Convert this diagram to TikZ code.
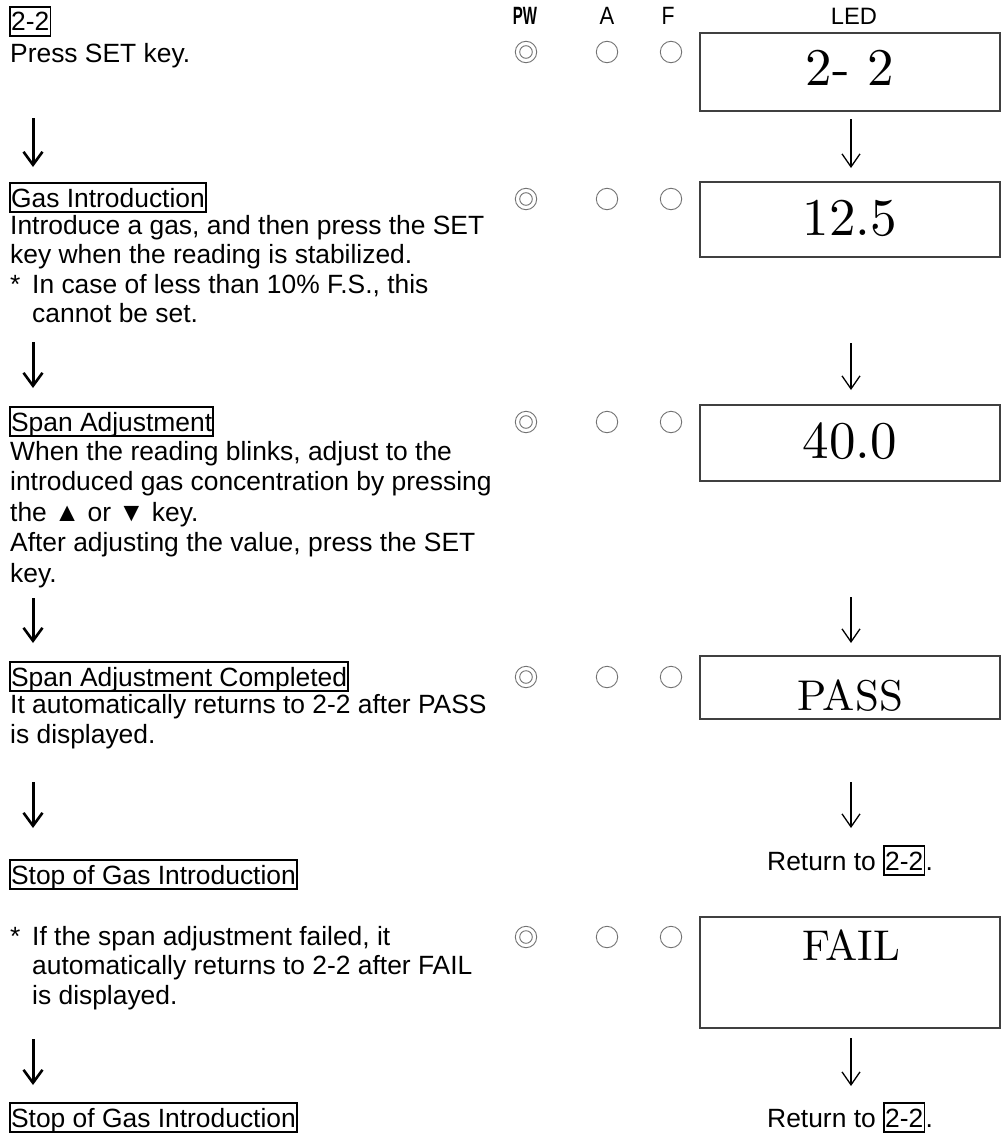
\documentclass[tikz,border=0pt]{standalone}
\usepackage{fontspec}
\usepackage{graphicx}
\newfontfamily\arialf{Liberation Sans}
\newfontfamily\lmten[Extension=.otf]{lmroman10-regular}
\usetikzlibrary{arrows.meta}
\tikzset{
  txt/.style={font=\arialf\fontsize{26.4}{29}\selectfont, anchor=base west, inner sep=0pt, text=black},
  ttl/.style={txt, draw=black, line width=1.8pt, inner xsep=1.2pt, inner ysep=0pt, text height=24pt, text depth=5.2pt},
  hdr/.style={font=\arialf\fontsize{25}{27}\selectfont, anchor=base, inner sep=0pt},
  ledbox/.style={draw=black!75, line width=1.3pt, minimum width=300pt, inner sep=0pt},
  ledtxt/.style={font=\lmten\fontsize{53}{58}\selectfont, anchor=base, inner sep=0pt},
  ledtxtb/.style={font=\lmten\fontsize{43}{48}\selectfont, anchor=base, inner sep=0pt},
  lamp/.style={circle, draw=black!55, line width=0.9pt, minimum size=21.4pt, inner sep=0pt},
  lampin/.style={circle, draw=black!55, line width=0.9pt, minimum size=12.6pt, inner sep=0pt},
  larr/.style={line width=3pt, -{Straight Barb[length=13pt,width=19pt,line width=2.6pt]}},
  rarr/.style={line width=1.3pt, -{Straight Barb[length=13pt,width=18pt,line width=1.3pt]}},
}
\begin{document}
\begin{tikzpicture}[x=1pt,y=-1pt]
\useasboundingbox[fill=white] (0,0) rectangle (1005,1140);

% headers
\node[hdr] (hpw) at (525,25) {\scalebox{0.6}[1]{\bfseries PW}};
\node[hdr] (ha) at (607,25) {\scalebox{0.88}[1]{A}};
\node[hdr] (hf) at (668,25) {\scalebox{0.85}[1]{F}};
\node[font=\arialf\fontsize{23.7}{26}\selectfont, anchor=base, inner sep=0pt] (hled) at (854,25) {LED};

% lamps
\foreach \r/\yy in {1/52,2/199,3/422,4/677,5/937}{
  \node[lamp] (pw\r) at (526,\yy) {};
  \node[lampin] (pwi\r) at (526,\yy) {};
  \node[lamp] (a\r) at (607,\yy) {};
  \node[lamp] (f\r) at (671,\yy) {};
}

% LED boxes
\node[ledbox, minimum height=78pt] (b1) at (850,72) {};
\node[ledbox, minimum height=75pt] (b2) at (850,219.5) {};
\node[ledbox, minimum height=76pt] (b3) at (850,443) {};
\node[ledbox, minimum height=63pt] (b4) at (850,687.5) {};
\node[ledbox, minimum height=111pt] (b5) at (850,972.5) {};
\node[ledtxt] (d1) at (850,85) {2- 2};
\node[ledtxt] (d2) at (850,235) {12.5};
\node[ledtxt] (d3) at (850,458) {40.0};
\node[ledtxtb] (d4) at (850,710) {PASS};
\node[ledtxtb] (d5) at (851,960) {FAIL};

% left text
\node[ttl] (t1) at (9,31) {2-2};
\node[txt] (p1) at (10,63) {Press SET key.};

\node[ttl] (t2) at (9,207) {Gas Introduction};
\node[txt] (p2a) at (10,234) {Introduce a gas, and then press the SET};
\node[txt] (p2b) at (10,263.5) {key when the reading is stabilized.};
\node[txt] (p2c) at (10,293) {*};
\node[txt] (p2d) at (32,293) {In case of less than 10\% F.S., this};
\node[txt] (p2e) at (32,322.5) {cannot be set.};

\node[ttl] (t3) at (9,431) {Span Adjustment};
\node[txt] (p3a) at (10,460) {When the reading blinks, adjust to the};
\node[txt] (p3b) at (10,490.5) {introduced gas concentration by pressing};
\node[txt] (p3c) at (10,521) {the ▲ or ▼ key.};
\node[txt] (p3d) at (10,551.5) {After adjusting the value, press the SET};
\node[txt] (p3e) at (10,582) {key.};

\node[ttl] (t4) at (9,686) {Span Adjustment Completed};
\node[txt] (p4a) at (10,713) {It automatically returns to 2-2 after PASS};
\node[txt] (p4b) at (10,743) {is displayed.};

\node[ttl] (t5) at (9,884) {Stop of Gas Introduction};

\node[txt] (p6s) at (10,945) {*};
\node[txt] (p6a) at (32,945) {If the span adjustment failed, it};
\node[txt] (p6b) at (32,974.5) {automatically returns to 2-2 after FAIL};
\node[txt] (p6c) at (32,1004) {is displayed.};

\node[ttl] (t7) at (9,1127) {Stop of Gas Introduction};

% return labels
\node[txt] (r1a) at (767,870) {Return to};
\node[ttl] (r1b) at (883,870) {2-2};
\node[txt] (r1c) at (r1b.base east) {.};
\node[txt] (r2a) at (767,1127) {Return to};
\node[ttl] (r2b) at (883,1127) {2-2};
\node[txt] (r2c) at (r2b.base east) {.};

% left arrows
\coordinate (l1s) at (33,118); \coordinate (l1e) at (33,167);
\coordinate (l2s) at (33,342); \coordinate (l2e) at (33,388);
\coordinate (l3s) at (33,598); \coordinate (l3e) at (33,643);
\coordinate (l4s) at (33,782); \coordinate (l4e) at (33,828);
\coordinate (l5s) at (33,1039); \coordinate (l5e) at (33,1085);
\foreach \i in {1,...,5}{ \draw[larr] (l\i s) -- (l\i e); }

% right arrows
\coordinate (q1s) at (851,119); \coordinate (q1e) at (851,168);
\coordinate (q2s) at (851,343); \coordinate (q2e) at (851,390);
\coordinate (q3s) at (851,597); \coordinate (q3e) at (851,643);
\coordinate (q4s) at (851,782); \coordinate (q4e) at (851,828);
\coordinate (q5s) at (851,1038); \coordinate (q5e) at (851,1086);
\foreach \i in {1,...,5}{ \draw[rarr] (q\i s) -- (q\i e); }
\end{tikzpicture}
\end{document}
